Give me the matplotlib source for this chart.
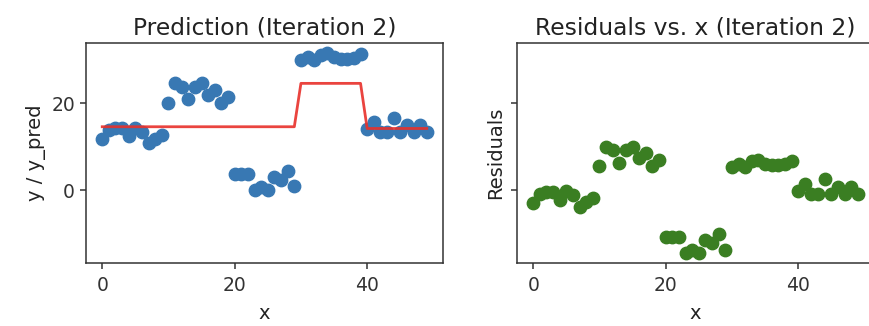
import numpy as np
import matplotlib
matplotlib.use("Agg")
import matplotlib.pyplot as plt

x = np.arange(50)
y = [11.7, 13.8, 14.2, 14.2, 12.4, 14.4, 13.4, 10.8, 11.8, 12.7,
     20.1, 24.6, 23.8, 20.9, 23.8, 24.6, 21.9, 23.1, 20.1, 21.5,
     3.8, 3.8, 3.8, 0.1, 0.8, 0.1, 3.1, 2.4, 4.4, 0.9,
     30.0, 30.6, 30.0, 31.2, 31.6, 30.6, 30.3, 30.3, 30.5, 31.3,
     14.0, 15.6, 13.4, 13.4, 16.7, 13.3, 15.0, 13.3, 15.0, 13.3]
y_pred = [14.6] * 30 + [24.6] * 10 + [14.2] * 10

residuals = np.array(y) - np.array(y_pred)

fig = plt.figure(figsize=(8.69, 3.26), dpi=100)
ax1 = fig.add_axes([86/869, 63/326, 357/869, 220/326])
ax2 = fig.add_axes([517/869, 63/326, 357/869, 220/326], sharey=ax1)

ax1.scatter(x, y, s=80, color='#3878b3')
ax1.plot(x, y_pred, color='#e8302a', lw=2.0, alpha=0.9)
ax1.set_title("Prediction (Iteration 2)", fontsize=16.8, color='#222222')
ax1.set_xlabel("x", fontsize=14, color='#222222', labelpad=6)
ax1.set_ylabel("y / y_pred", fontsize=14, color='#222222')

ax2.scatter(x, residuals, s=80, color='#3a7e22')
ax2.set_title("Residuals vs. x (Iteration 2)", fontsize=16.8, color='#222222')
ax2.set_xlabel("x", fontsize=14, color='#222222', labelpad=6)
ax2.set_ylabel("Residuals", fontsize=14, color='#222222')
ax2.tick_params(labelleft=False)

for ax in (ax1, ax2):
    ax.set_xticks([0, 20, 40])
    ax.set_yticks([0, 20])
    ax.tick_params(labelsize=13.5, colors='#333333', length=4.5, width=1.1)
    ax.tick_params(axis='x', pad=5)
    for sp in ax.spines.values():
        sp.set_color('#333333')
        sp.set_linewidth(1.1)

fig.savefig("out.png", dpi=100)
